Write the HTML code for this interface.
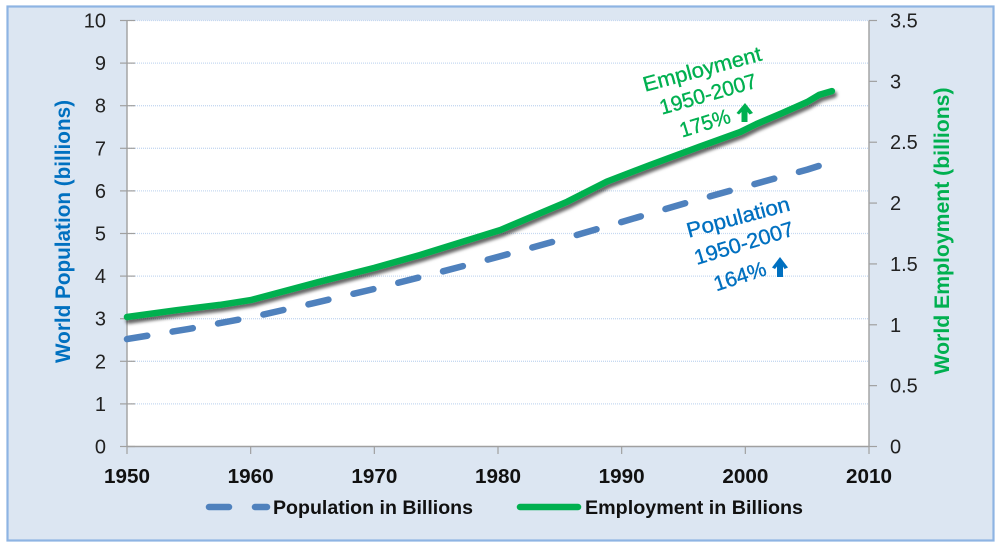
<!DOCTYPE html>
<html>
<head>
<meta charset="utf-8">
<title>World Population and Employment</title>
<style>
html,body{margin:0;padding:0;background:#fff;width:1000px;height:548px;overflow:hidden}
svg{display:block}
text{font-family:"Liberation Sans",sans-serif}
</style>
</head>
<body>
<svg id="chart" width="1000" height="548" viewBox="0 0 1000 548">
  <defs>
    <filter id="line-shadow" x="-5%" y="-20%" width="110%" height="140%">
      <feDropShadow dx="2" dy="3.5" stdDeviation="1.7" flood-color="#000" flood-opacity="0.6"/>
    </filter>
  </defs>
  <rect x="7.5" y="6.5" width="986" height="534" fill="#dce6f2" stroke="#8eb4e3" stroke-width="2.2"/>
  <rect x="127" y="20.5" width="742" height="426" fill="#fff"/>
  <g id="grid"></g>
  <g id="axes"></g>
  <g id="series"></g>

  <text transform="translate(70 231.5) rotate(-90)" text-anchor="middle" font-size="21" font-weight="700" fill="#0070c0" textLength="263" lengthAdjust="spacingAndGlyphs">World Population (billions)</text>
  <text transform="translate(949 231) rotate(-90)" text-anchor="middle" font-size="21" font-weight="700" fill="#00b050" textLength="287" lengthAdjust="spacingAndGlyphs">World Employment (billions)</text>

  <g fill="#00b050" stroke="#00b050" stroke-width="0.35" font-size="21" text-anchor="middle">
    <text transform="translate(704 76) rotate(-15)" textLength="122" lengthAdjust="spacingAndGlyphs">Employment</text>
    <text transform="translate(710 101) rotate(-16)" textLength="100" lengthAdjust="spacingAndGlyphs">1950-2007</text>
    <text transform="translate(707 130) rotate(-17)" textLength="52" lengthAdjust="spacingAndGlyphs">175%</text>
    <path d="M745 103 L753 113 L749.5 114.5 L747.5 112 L747.5 122 L741.5 122 L741.5 112 L739 114.5 L736.5 113 Z" stroke="none"/>
  </g>
  <g fill="#0070c0" stroke="#0070c0" stroke-width="0.35" font-size="21" text-anchor="middle">
    <text transform="translate(740 224) rotate(-15)" textLength="106" lengthAdjust="spacingAndGlyphs">Population</text>
    <text transform="translate(746 250) rotate(-17)" textLength="103" lengthAdjust="spacingAndGlyphs">1950-2007</text>
    <text transform="translate(742 283) rotate(-18)" textLength="54" lengthAdjust="spacingAndGlyphs">164%</text>
    <path d="M780 257 L788 267.5 L784.5 269 L783 266.5 L783 277 L777 277 L777 266.5 L775 269 L772 267.5 Z" stroke="none"/>
  </g>

  <g>
    <g>
      <line x1="209" y1="507" x2="229" y2="507" stroke="#4f81bd" stroke-width="6.5" stroke-linecap="round"/>
      <line x1="255" y1="507" x2="267" y2="507" stroke="#4f81bd" stroke-width="6.5" stroke-linecap="round"/>
      <text x="273" y="514" font-size="19.5" font-weight="700" fill="#111" textLength="200" lengthAdjust="spacingAndGlyphs">Population in Billions</text>
    </g>
    <g>
      <line x1="520" y1="507" x2="578" y2="507" stroke="#00b050" stroke-width="6.5" stroke-linecap="round"/>
      <text x="585" y="514" font-size="19.5" font-weight="700" fill="#111" textLength="218" lengthAdjust="spacingAndGlyphs">Employment in Billions</text>
    </g>
  </g>
</svg>
<script>
var xTicks = [1950, 1960, 1970, 1980, 1990, 2000, 2010];
var leftTicks = [0, 1, 2, 3, 4, 5, 6, 7, 8, 9, 10];
var rightTicks = [0, 0.5, 1, 1.5, 2, 2.5, 3, 3.5];
var populationYears = [1950, 1955, 1960, 1965, 1970, 1975, 1980, 1985, 1990, 1995, 2000, 2005, 2007];
var populationValues = [2.52, 2.76, 3.03, 3.36, 3.70, 4.07, 4.45, 4.85, 5.27, 5.70, 6.10, 6.50, 6.68];
var employmentYears = [1950, 1954, 1957.5, 1960, 1965.6, 1970, 1973.7, 1980.2, 1985.6, 1988.8, 1992.3, 1996.3, 1999.6, 2000.9, 2003, 2005, 2006, 2007];
var employmentValues = [1.064, 1.12, 1.163, 1.203, 1.354, 1.467, 1.573, 1.779, 2.011, 2.176, 2.313, 2.463, 2.585, 2.65, 2.74, 2.83, 2.89, 2.92];

var NS = 'http://www.w3.org/2000/svg';
var plotLeft = 127, plotRight = 869, plotTop = 20.5, plotBottom = 446.5;
function xScale(v) { return plotLeft + (v - 1950) / 60 * (plotRight - plotLeft); }
function yLeft(v) { return plotBottom - v / 10 * (plotBottom - plotTop); }
function yRight(v) { return plotBottom - v / 3.5 * (plotBottom - plotTop); }
function make(tag, attrs, parent) {
  var el = document.createElementNS(NS, tag);
  for (var k in attrs) el.setAttribute(k, attrs[k]);
  parent.appendChild(el);
  return el;
}
var gridG = document.getElementById('grid');
var axesG = document.getElementById('axes');
var seriesG = document.getElementById('series');
var axisColor = '#a0a0a0';

leftTicks.forEach(function (t) {
  var y = yLeft(t);
  if (t > 0) {
    var g = make('line', {x1: plotLeft, x2: plotRight, y1: y, y2: y, stroke: '#c6d9f1', 'stroke-width': 1.3, 'stroke-dasharray': '1 1'}, gridG);
    
    
  }
  var tick = make('line', {x1: 120, x2: 135, y1: y, y2: y, stroke: axisColor, 'stroke-width': 1.2}, axesG);
  
  
  var lab = make('text', {x: 106, y: y + 7, 'text-anchor': 'end', 'font-size': 20, fill: '#222'}, axesG);
  lab.textContent = String(t);
  
  
});
rightTicks.forEach(function (t) {
  var y = yRight(t);
  var tick = make('line', {x1: 869, x2: 877, y1: y, y2: y, stroke: axisColor, 'stroke-width': 1.2}, axesG);
  
  
  var lab = make('text', {x: 890, y: y + 7, 'font-size': 20, fill: '#222'}, axesG);
  lab.textContent = String(t);
  
  
});
xTicks.forEach(function (t) {
  var x = xScale(t);
  var tick = make('line', {x1: x, x2: x, y1: plotBottom, y2: 454, stroke: axisColor, 'stroke-width': 1.2}, axesG);
  
  
  var lab = make('text', {x: x, y: 483, 'text-anchor': 'middle', 'font-size': 20, 'font-weight': 700, fill: '#111', textLength: 46, lengthAdjust: 'spacingAndGlyphs'}, axesG);
  lab.textContent = String(t);
  
  
});
var axL = make('line', {x1: plotLeft, x2: plotLeft, y1: plotTop, y2: plotBottom, stroke: axisColor, 'stroke-width': 1.4}, axesG);


var axR = make('line', {x1: plotRight, x2: plotRight, y1: plotTop, y2: plotBottom, stroke: axisColor, 'stroke-width': 1.4}, axesG);


var axB = make('line', {x1: plotLeft, x2: plotRight, y1: plotBottom, y2: plotBottom, stroke: axisColor, 'stroke-width': 1.4}, axesG);



function pointsOf(xs, ys, yFn) {
  return xs.map(function (x, i) { return xScale(x).toFixed(1) + ',' + yFn(ys[i]).toFixed(1); }).join(' ');
}
var popLine = make('polyline', {points: pointsOf(populationYears, populationValues, yLeft), fill: 'none', stroke: '#4f81bd', 'stroke-width': 6.5, 'stroke-linecap': 'round', 'stroke-linejoin': 'round', 'stroke-dasharray': '20.5 25.7'}, seriesG);


var empLine = make('polyline', {points: pointsOf(employmentYears, employmentValues, yRight), fill: 'none', stroke: '#00b050', 'stroke-width': 6.5, 'stroke-linecap': 'round', 'stroke-linejoin': 'round', filter: 'url(#line-shadow)'}, seriesG);


</script>
</body>
</html>
